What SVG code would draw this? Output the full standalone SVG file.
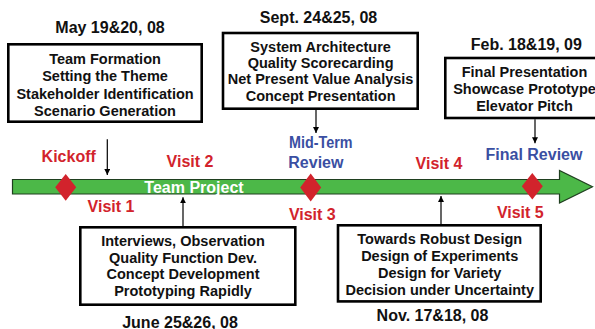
<svg xmlns="http://www.w3.org/2000/svg" width="595" height="329" viewBox="0 0 595 329">
<defs>
<style>
.box{fill:#fff;stroke:#000;stroke-width:2.6}
.bt{font-family:"Liberation Sans",Arial,sans-serif;font-weight:bold;font-size:14.5px;fill:#111;text-anchor:middle}
.dt{font-family:"Liberation Sans",Arial,sans-serif;font-weight:bold;font-size:16px;fill:#111;text-anchor:middle}
.red{font-family:"Liberation Sans",Arial,sans-serif;font-weight:bold;font-size:16px;fill:#d2232c;text-anchor:middle}
.blue{font-family:"Liberation Sans",Arial,sans-serif;font-weight:bold;font-size:16px;fill:#3a4fa2}
.dia{fill:#d2232c}
.con{stroke:#000;stroke-width:1.2;fill:none}
</style>
<marker id="ah" viewBox="0 0 6 6" refX="6" refY="3" markerWidth="6" markerHeight="6" markerUnits="userSpaceOnUse" orient="auto">
<path d="M0,0 L6,3 L0,6 Z" fill="#000"/>
</marker>
</defs>

<g id="timeline">
<path d="M12.5,179.5 H559.5 V170.5 L592.5,186.8 L559.5,203 V194 H12.5 Z" fill="#4cb848" stroke="#1f3f1f" stroke-width="1.2"/>
<text x="194" y="192.5" font-family="Liberation Sans,Arial,sans-serif" font-weight="bold" font-size="16" fill="#fff" text-anchor="middle">Team Project</text>
</g>

<g id="milestone-kickoff">
<polygon class="dia" points="65.7,174 76.2,187.3 65.7,200.7 55.2,187.3"/>
<text class="red" x="68.7" y="161.7">Kickoff</text>
<text class="red" x="111" y="212.3">Visit 1</text>
</g>

<g id="milestone-visit2">
<text class="red" x="190" y="166.7">Visit 2</text>
</g>

<g id="milestone-midterm">
<polygon class="dia" points="310.7,173.5 321.2,187.5 310.7,201.5 300.2,187.5"/>
<text class="blue" x="289" y="147.7" textLength="63.5" lengthAdjust="spacingAndGlyphs">Mid-Term</text>
<text class="blue" x="288.3" y="167.5">Review</text>
<text class="red" x="312.3" y="219.5">Visit 3</text>
</g>

<g id="milestone-visit4">
<text class="red" x="439" y="168.7">Visit 4</text>
</g>

<g id="milestone-final">
<polygon class="dia" points="532.3,173 542.8,186.3 532.3,199.6 521.8,186.3"/>
<text class="blue" x="534" y="160" text-anchor="middle">Final Review</text>
<text class="red" x="520.3" y="218.3">Visit 5</text>
</g>

<g id="box-may">
<text class="dt" x="110" y="33">May 19&amp;20, 08</text>
<rect class="box" x="8.3" y="44.3" width="193.4" height="77.4"/>
<text class="bt" x="105" y="63.5">Team Formation</text>
<text class="bt" x="105" y="81">Setting the Theme</text>
<text class="bt" x="105" y="98.5">Stakeholder Identification</text>
<text class="bt" x="105" y="116">Scenario Generation</text>
</g>

<g id="box-sept">
<text class="dt" x="318.5" y="22.5">Sept. 24&amp;25, 08</text>
<rect class="box" x="223" y="33" width="194.7" height="75.7"/>
<text class="bt" x="320.6" y="52">System Architecture</text>
<text class="bt" x="320.6" y="68.2">Quality Scorecarding</text>
<text class="bt" x="320.6" y="84.4">Net Present Value Analysis</text>
<text class="bt" x="320.6" y="100.6">Concept Presentation</text>
</g>

<g id="box-feb">
<text class="dt" x="526.3" y="50">Feb. 18&amp;19, 09</text>
<rect class="box" x="445.3" y="58" width="160" height="60"/>
<text class="bt" x="524.5" y="77">Final Presentation</text>
<text class="bt" x="524.5" y="93.7">Showcase Prototype</text>
<text class="bt" x="524.5" y="110.7">Elevator Pitch</text>
</g>

<g id="box-june">
<rect class="box" x="80.3" y="227.3" width="215" height="77.4"/>
<text class="bt" x="183" y="246">Interviews, Observation</text>
<text class="bt" x="183" y="262.7">Quality Function Dev.</text>
<text class="bt" x="183" y="279.3">Concept Development</text>
<text class="bt" x="183" y="296">Prototyping Rapidly</text>
<text class="dt" x="180" y="328">June 25&amp;26, 08</text>
</g>

<g id="box-nov">
<rect class="box" x="338" y="225.3" width="202.7" height="76.1"/>
<text class="bt" x="439.7" y="243.5">Towards Robust Design</text>
<text class="bt" x="439.7" y="260.5">Design of Experiments</text>
<text class="bt" x="439.7" y="277.5">Design for Variety</text>
<text class="bt" x="439.7" y="294.5">Decision under Uncertainty</text>
<text class="dt" x="432.5" y="321">Nov. 17&amp;18, 08</text>
</g>

<g id="connectors">
<line class="con" x1="107.3" y1="139.3" x2="107.3" y2="175" marker-end="url(#ah)"/>
<line class="con" x1="316" y1="110" x2="316" y2="133" marker-end="url(#ah)"/>
<line class="con" x1="535" y1="119.3" x2="535" y2="143.3" marker-end="url(#ah)"/>
<line class="con" x1="183" y1="226" x2="183" y2="197.3" marker-end="url(#ah)"/>
<line class="con" x1="441" y1="224" x2="441" y2="196" marker-end="url(#ah)"/>
</g>
</svg>
